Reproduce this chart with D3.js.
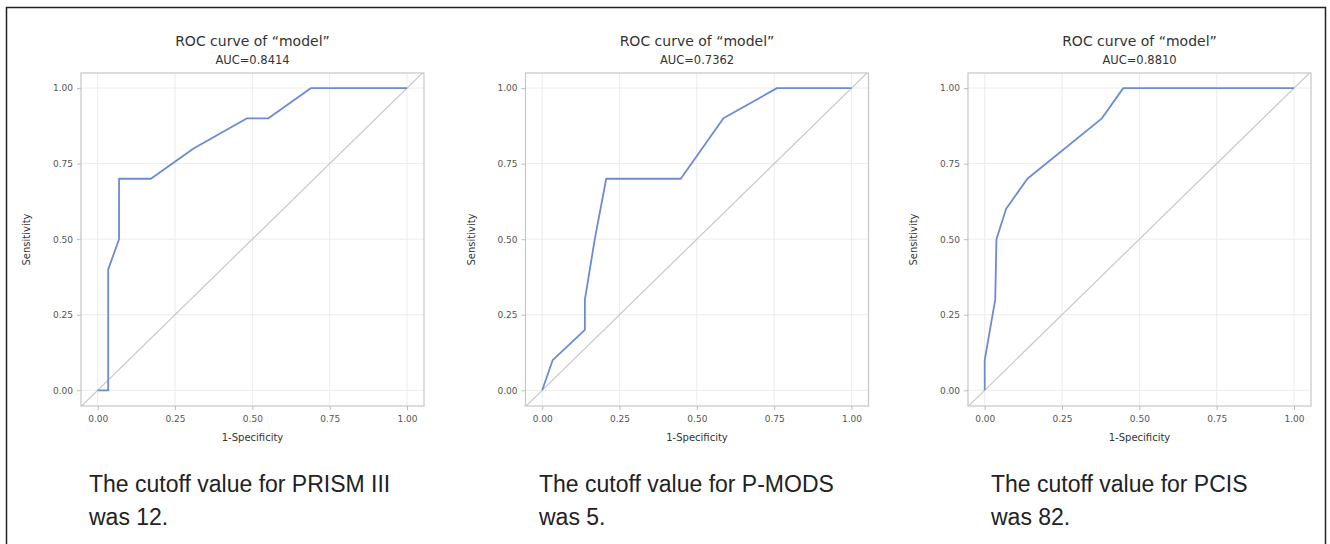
<!DOCTYPE html>
<html>
<head>
<meta charset="utf-8">
<script src="https://cdn.jsdelivr.net/npm/d3@7"></script>
<style>
  body { margin: 0; background: #fff; }
  .tick text { fill: #555; font-family: "DejaVu Sans", sans-serif; font-size: 9px; }
  .tick line { stroke: #bbb; }
  .caption { font-family: "Liberation Sans Narrow", "Liberation Sans", sans-serif; font-size: 23px; fill: #222; }
</style>
</head>
<body>
<div id="chart"></div>
<script>
// one entry per panel
var aucLabels = ["AUC=0.8414", "AUC=0.7362", "AUC=0.8810"]
var captionLine1 = ["The cutoff value for PRISM III", "The cutoff value for P-MODS", "The cutoff value for PCIS"]
var captionLine2 = ["was 12.", "was 5.", "was 82."]

// 1-specificity / sensitivity
var fprPrism = [0, 0.034, 0.034, 0.069, 0.069, 0.172, 0.310, 0.483, 0.552, 0.690, 1]
var tprPrism = [0, 0, 0.4, 0.5, 0.7, 0.7, 0.8, 0.9, 0.9, 1, 1]

var fprPmods = [0, 0.034, 0.138, 0.138, 0.170, 0.207, 0.448, 0.586, 0.759, 1]
var tprPmods = [0, 0.1, 0.2, 0.3, 0.5, 0.7, 0.7, 0.9, 1, 1]

var fprPcis = [0, 0, 0.034, 0.038, 0.069, 0.138, 0.379, 0.448, 1]
var tprPcis = [0, 0.1, 0.3, 0.5, 0.6, 0.7, 0.9, 1, 1]

var tickValues = [0, 0.25, 0.5, 0.75, 1]

var curves = [
  d3.zip(fprPrism, tprPrism),
  d3.zip(fprPmods, tprPmods),
  d3.zip(fprPcis, tprPcis)
]

var W = 1330, H = 544

var svg = d3.select("#chart").append("svg")
  .attr("width", W).attr("height", H)

// outer frame of the slide
svg.append("rect")
  .attr("x", 6.5).attr("y", 7.5)
  .attr("width", 1319).attr("height", 560)
  .attr("fill", "none").attr("stroke", "#222").attr("stroke-width", 1.5)

var panelLeft = [81, 525.5, 968],
    plotTop = 73,
    plotW = 343,
    plotH = 333,
    captionLeft = [89, 539, 991]

var x = d3.scaleLinear().domain([-0.054, 1.055]).range([0, plotW])
var y = d3.scaleLinear().domain([-0.052, 1.05]).range([plotH, 0])

var fmt = d3.format(".2f")

var line = d3.line()
  .x(function(d){ return x(d[0]) })
  .y(function(d){ return y(d[1]) })

curves.forEach(function(data, i){
  var g = svg.append("g")
    .attr("transform", "translate(" + panelLeft[i] + "," + plotTop + ")")

  g.append("clipPath").attr("id", "clip" + i)
    .append("rect").attr("width", plotW).attr("height", plotH)

  // grid
  g.selectAll(".vgrid").data(tickValues).enter().append("line")
    .attr("x1", function(d){ return x(d) }).attr("x2", function(d){ return x(d) })
    .attr("y1", 0).attr("y2", plotH)
    .attr("stroke", "#ececec")
  g.selectAll(".hgrid").data(tickValues).enter().append("line")
    .attr("y1", function(d){ return y(d) }).attr("y2", function(d){ return y(d) })
    .attr("x1", 0).attr("x2", plotW)
    .attr("stroke", "#ececec")

  // chance line
  g.append("line")
    .attr("clip-path", "url(#clip" + i + ")")
    .attr("x1", x(-0.1)).attr("y1", y(-0.1))
    .attr("x2", x(1.1)).attr("y2", y(1.1))
    .attr("stroke", "#c8c8c8").attr("stroke-width", 1.2)

  g.append("path")
    .datum(data)
    .attr("d", line)
    .attr("fill", "none")
    .attr("stroke", "#6c8bd3")
    .attr("stroke-width", 1.8)
    .attr("stroke-linejoin", "round")

  g.append("rect")
    .attr("width", plotW).attr("height", plotH)
    .attr("fill", "none").attr("stroke", "#c6c6c6").attr("stroke-width", 1.2)

  var xAxis = g.append("g")
    .attr("transform", "translate(0," + plotH + ")")
    .call(d3.axisBottom(x).tickValues(tickValues).tickFormat(fmt).tickSize(4).tickPadding(6))
  xAxis.select(".domain").remove()

  var yAxis = g.append("g")
    .call(d3.axisLeft(y).tickValues(tickValues).tickFormat(fmt).tickSize(4).tickPadding(4))
  yAxis.select(".domain").remove()

  g.append("text")
    .attr("x", plotW / 2).attr("y", plotH + 35)
    .attr("text-anchor", "middle")
    .style("font-family", "DejaVu Sans, sans-serif").style("font-size", "10px").style("fill", "#333")
    .text("1-Specificity")

  g.append("text")
    .attr("transform", "translate(" + (-51) + "," + (plotH / 2) + ") rotate(-90)")
    .attr("text-anchor", "middle")
    .style("font-family", "DejaVu Sans, sans-serif").style("font-size", "10px").style("fill", "#333")
    .text("Sensitivity")

  g.append("text")
    .attr("x", plotW / 2).attr("y", -27)
    .attr("text-anchor", "middle")
    .style("font-family", "DejaVu Sans, sans-serif").style("font-size", "14px").style("fill", "#333")
    .text("ROC curve of \u201Cmodel\u201D")

  g.append("text")
    .attr("x", plotW / 2).attr("y", -9)
    .attr("text-anchor", "middle")
    .style("font-family", "DejaVu Sans, sans-serif").style("font-size", "11.5px").style("fill", "#333")
    .text(aucLabels[i])

  svg.append("text").attr("class", "caption")
    .attr("x", captionLeft[i]).attr("y", 492)
    .text(captionLine1[i])
  svg.append("text").attr("class", "caption")
    .attr("x", captionLeft[i]).attr("y", 525)
    .text(captionLine2[i])
})
</script>
</body>
</html>
